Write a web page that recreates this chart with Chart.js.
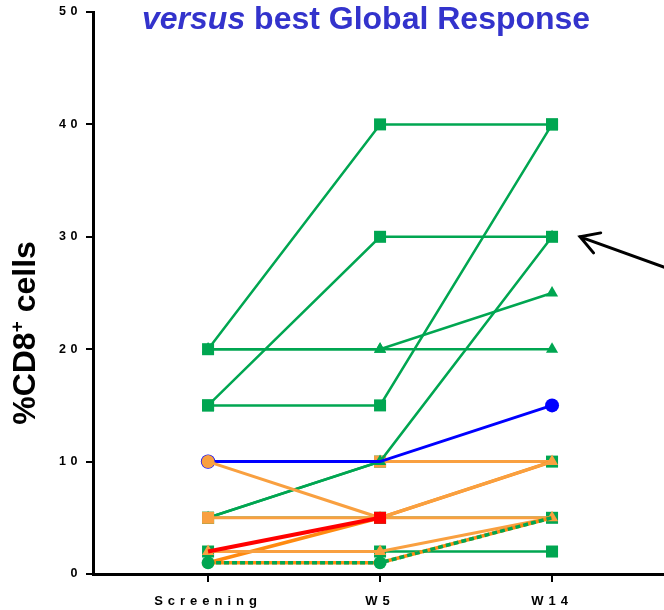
<!DOCTYPE html>
<html>
<head>
<meta charset="utf-8">
<script src="https://cdn.jsdelivr.net/npm/chart.js@4/dist/chart.umd.min.js"></script>
<style>
  body { margin: 0; background: #fff; }
  canvas { display: block; }
</style>
</head>
<body>
<canvas id="myChart" width="664" height="610"></canvas>
<script>
const visits = ['Screening', 'W5', 'W14'];
const yTicks = [0, 10, 20, 30, 40, 50];

// %CD8+ per patient at each visit
const redSquare      = [2, 5, null];
const orangeCircle   = [10, 5, 10];
const blueCircle     = [10, 10, 15];
const greenDashed    = [1, 1, 5];
const orangeUnder    = [1, 1, 5];
const orangeTriangle = [2, 2, 5];
const greenLow       = [2, 2, 2];
const orangeRise     = [1, 5, 10];
const orangeSquare   = [5, 5, 5];
const greenRise      = [5, 10, 30];
const orangeFlat     = [10, 10, 10];
const greenTen       = [5, 10, 10];
const greenFive      = [5, 5, 5];
const greenTop       = [20, 40, 40];
const greenUp25      = [20, 20, 25];
const greenFlat20    = [20, 20, 20];
const greenUp30      = [15, 30, 30];
const greenLate      = [15, 15, 40];

const GREEN = '#00a651';
const LIGHT_ORANGE = '#f9a040';
const DARK_ORANGE = '#ff8a10';
const FONT = "'Liberation Sans', Arial, sans-serif";

function series(data, color, style, radius, width, extra) {
    return Object.assign({
        data: data.map((v, i) => ({ x: i, y: v })),
        borderColor: color,
        backgroundColor: color,
        pointBackgroundColor: color,
        pointBorderColor: color,
        pointBorderWidth: 0,
        pointStyle: style,
        pointRadius: radius,
        borderWidth: width,
        tension: 0,
        spanGaps: false
    }, extra || {});
}

const SQ = 8.5, TRI = 7, CIR = 6.5;

// first dataset is painted last (on top)
const datasets = [
    series(redSquare, '#ff0000', 'rect', [0, SQ, 0], 4),
    series(orangeCircle, LIGHT_ORANGE, 'circle', [CIR, 0, 0], 3),
    series(blueCircle, '#0000ff', 'circle', [7.2, 0, 7], 3),
    series(greenDashed, GREEN, 'circle', [CIR, CIR, 0], 3.5, { borderDash: [5, 3] }),
    series(orangeUnder, DARK_ORANGE, 'circle', 0, 3.5),
    series(orangeTriangle, LIGHT_ORANGE, 'triangle', TRI, 3),
    series(greenLow, GREEN, 'rect', SQ, 2.5),
    series(orangeRise, DARK_ORANGE, 'triangle', TRI, 3.5, { pointBackgroundColor: LIGHT_ORANGE, pointBorderColor: LIGHT_ORANGE }),
    series(orangeSquare, LIGHT_ORANGE, 'rect', [SQ, 0, 0], 3),
    series(greenRise, GREEN, 'triangle', TRI, 2.5),
    series(orangeFlat, LIGHT_ORANGE, 'rect', [0, SQ, 0], 3),
    series(greenTen, GREEN, 'rect', SQ, 2.5),
    series(greenFive, GREEN, 'rect', SQ, 2.5),
    series(greenTop, GREEN, 'rect', SQ, 2.5),
    series(greenUp25, GREEN, 'triangle', TRI, 2.5),
    series(greenFlat20, GREEN, 'triangle', TRI, 2.5),
    series(greenUp30, GREEN, 'rect', SQ, 2.5),
    series(greenLate, GREEN, 'rect', SQ, 2.5)
];

// spaced-out tick text, like the original axis lettering
const tickSpacing = { x: 5, y: 4.5 };
const spacedTicks = {
    id: 'spacedTicks',
    beforeDraw(chart) {
        Object.values(chart.scales).forEach(scale => {
            if (scale._spaced) return;
            const draw = scale.drawLabels.bind(scale);
            scale.drawLabels = area => {
                const ctx = scale.ctx;
                ctx.save();
                ctx.letterSpacing = (tickSpacing[scale.id] || 0) + 'px';
                draw(area);
                ctx.restore();
            };
            scale._spaced = true;
        });
    }
};

const decorations = {
    id: 'decorations',
    afterDraw(chart) {
        const ctx = chart.ctx;
        const xs = chart.scales.x, ys = chart.scales.y;

        // heading
        ctx.save();
        ctx.fillStyle = '#3333cc';
        ctx.textBaseline = 'alphabetic';
        ctx.textAlign = 'left';
        ctx.font = 'italic bold 32px ' + FONT;
        ctx.fillText('versus', 142, 29);
        const w = ctx.measureText('versus').width;
        ctx.font = 'bold 32px ' + FONT;
        ctx.fillText(' best Global Response', 142 + w, 29);
        ctx.restore();

        // y axis title with superscript +
        ctx.save();
        ctx.fillStyle = '#000';
        ctx.textBaseline = 'alphabetic';
        ctx.textAlign = 'left';
        const big = 'bold 32px ' + FONT, small = 'bold 19px ' + FONT;
        ctx.font = big;
        const w1 = ctx.measureText('%CD8').width;
        const w3 = ctx.measureText(' cells').width;
        ctx.font = small;
        const w2 = ctx.measureText('+').width;
        const total = w1 + w2 + w3;
        ctx.translate(35, 333 + total / 2);
        ctx.rotate(-Math.PI / 2);
        ctx.font = big;
        ctx.fillText('%CD8', 0, 0);
        ctx.font = small;
        ctx.fillText('+', w1, -12);
        ctx.font = big;
        ctx.fillText(' cells', w1 + w2, 0);
        ctx.restore();

        // arrow pointing at the W14 30% mark
        const tipX = xs.getPixelForValue(2) + 28;
        const tipY = ys.getPixelForValue(30);
        const endX = chart.chartArea.right;
        const endY = tipY + 30;
        const ang = Math.atan2(endY - tipY, endX - tipX);
        ctx.save();
        ctx.strokeStyle = '#000';
        ctx.lineWidth = 3;
        ctx.lineCap = 'round';
        ctx.beginPath();
        ctx.moveTo(endX + 2, endY + 1);
        ctx.lineTo(tipX, tipY);
        ctx.moveTo(tipX + 21 * Math.cos(ang - 0.53), tipY + 21 * Math.sin(ang - 0.53));
        ctx.lineTo(tipX, tipY);
        ctx.lineTo(tipX + 21 * Math.cos(ang + 0.53), tipY + 21 * Math.sin(ang + 0.53));
        ctx.stroke();
        ctx.restore();
    }
};

new Chart(document.getElementById('myChart').getContext('2d'), {
    type: 'line',
    data: { datasets: datasets },
    options: {
        responsive: false,
        animation: false,
        devicePixelRatio: 1,
        events: [],
        layout: { autoPadding: false, padding: { top: 12, right: 0, bottom: 0, left: 0 } },
        plugins: {
            legend: { display: false },
            tooltip: { enabled: false },
            title: { display: false }
        },
        scales: {
            x: {
                type: 'linear',
                min: -0.669,
                max: 2.651,
                afterBuildTicks: scale => { scale.ticks = visits.map((v, i) => ({ value: i })); },
                afterFit: scale => { scale.height = 36; },
                ticks: {
                    callback: v => visits[v],
                    color: '#000',
                    padding: 12,
                    maxRotation: 0,
                    autoSkip: false,
                    font: { family: FONT, size: 13, weight: 'bold' }
                },
                grid: { drawOnChartArea: false, drawTicks: true, tickLength: 8, color: '#000', lineWidth: 2 },
                border: { display: true, color: '#000', width: 3 }
            },
            y: {
                min: 0,
                max: 50,
                afterBuildTicks: scale => { scale.ticks = yTicks.map(v => ({ value: v })); },
                afterFit: scale => {
                    scale.width = 93;
                    scale.paddingTop = 0;
                    scale.paddingBottom = 0;
                },
                ticks: {
                    color: '#000',
                    padding: 4,
                    font: { family: FONT, size: 12.5, weight: 'bold' }
                },
                grid: { drawOnChartArea: false, drawTicks: true, tickLength: 7, color: '#000', lineWidth: 2 },
                border: { display: true, color: '#000', width: 3 }
            }
        }
    },
    plugins: [spacedTicks, decorations]
});
</script>
</body>
</html>
